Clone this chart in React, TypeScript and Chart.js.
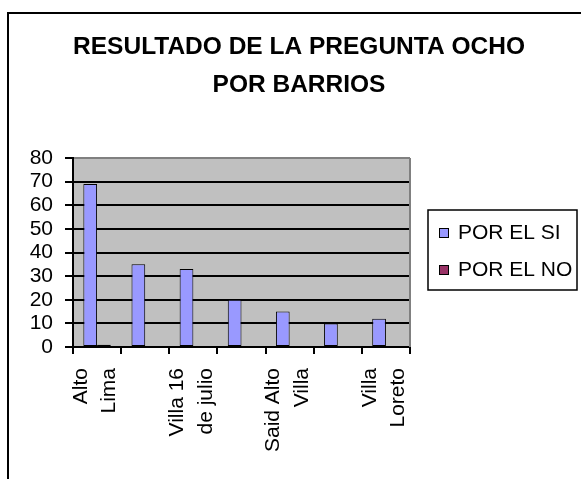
import React, { useEffect, useRef } from "react";
import { Chart, registerables } from "chart.js";

Chart.register(...registerables);

// ---- data ----
const titleLines = ["RESULTADO DE LA PREGUNTA OCHO", "POR BARRIOS"];
// Excel only printed every other category label; the hidden ones are unknown.
const categories: (string | string[])[] = [
  ["Alto", "Lima"],
  "",
  ["Villa 16", "de julio"],
  "",
  ["Said Alto", "Villa"],
  "",
  ["Villa", "Loreto"],
];
const seriesNames = ["POR EL SI", "POR EL NO"];
const porElSi = [69, 35, 33, 20, 15, 10, 12];
const porElNo = [1, 0, 0, 0, 0, 0, 0];
const yMin = 0;
const yMax = 80;
const yStep = 10;
const seriesColors = ["#9999FF", "#993366"];

const FONT = "'Liberation Sans', Arial, Helvetica, sans-serif";

const decorPlugin = {
  id: "decor",
  beforeDraw(chart: any) {
    const { ctx, chartArea: a } = chart;
    ctx.save();
    ctx.fillStyle = "#ffffff";
    ctx.fillRect(0, 0, chart.width, chart.height);
    // outer chart frame (extends beyond the picture on right/bottom)
    ctx.strokeStyle = "#000";
    ctx.lineWidth = 2;
    ctx.beginPath();
    ctx.moveTo(8, chart.height + 5);
    ctx.lineTo(8, 13);
    ctx.lineTo(chart.width + 5, 13);
    ctx.stroke();
    // plot area background
    ctx.fillStyle = "#C0C0C0";
    ctx.fillRect(a.left, a.top, a.right - a.left, a.bottom - a.top);
    ctx.restore();
  },
  beforeDatasetsDraw(chart: any) {
    const { ctx, chartArea: a } = chart;
    ctx.save();
    ctx.strokeStyle = "#808080";
    ctx.lineWidth = 2;
    ctx.beginPath();
    ctx.moveTo(a.right, a.top);
    ctx.lineTo(a.right, a.bottom);
    ctx.stroke();
    ctx.restore();
  },
  afterDraw(chart: any) {
    const { ctx } = chart;
    ctx.save();
    // title
    ctx.fillStyle = "#000";
    ctx.font = `bold 24.5px ${FONT}`;
    ctx.textAlign = "center";
    ctx.textBaseline = "middle";
    const titleY = [47.5, 85];
    titleLines.forEach((t, i) => ctx.fillText(t, 299, titleY[i]));
    // legend
    const bx = 428, by = 210, bw = 149, bh = 80;
    ctx.strokeStyle = "#000";
    ctx.lineWidth = 1.5;
    ctx.strokeRect(bx, by, bw, bh);
    ctx.font = `21px ${FONT}`;
    ctx.textAlign = "left";
    const rowY = [233, 270];
    chart.data.datasets.forEach((ds: any, i: number) => {
      const cy = rowY[i];
      ctx.fillStyle = ds.backgroundColor;
      ctx.fillRect(439, cy - 5, 10, 10);
      ctx.lineWidth = 1;
      ctx.strokeStyle = "#000";
      ctx.strokeRect(439.5, cy - 4.5, 9, 9);
      ctx.fillStyle = "#000";
      ctx.fillText(ds.label, 458, cy);
    });
    ctx.restore();
  },
};

export default function App() {
  const ref = useRef<HTMLCanvasElement>(null);
  useEffect(() => {
    if (!ref.current) return;
    Chart.defaults.font.family = FONT;
    const chart = new Chart(ref.current, {
      type: "bar",
      data: {
        labels: categories,
        datasets: [
          {
            label: seriesNames[0],
            data: porElSi,
            backgroundColor: seriesColors[0],
            borderColor: "#000",
            borderWidth: 1,
            borderSkipped: false,
          },
          {
            label: seriesNames[1],
            data: porElNo,
            backgroundColor: seriesColors[1],
            borderColor: "#000",
            borderWidth: 1,
            borderSkipped: false,
          },
        ],
      },
      options: {
        responsive: false,
        devicePixelRatio: 1,
        animation: false,
        layout: { padding: { left: 0, top: 158, right: 171, bottom: 0 } },
        plugins: {
          legend: { display: false },
          title: { display: false },
          tooltip: { enabled: false },
        },
        datasets: {
          bar: { categoryPercentage: 0.57, barPercentage: 1 },
        },
        scales: {
          x: {
            afterFit: (s: any) => {
              s.height = 132;
            },
            border: { display: true, color: "#000", width: 2 },
            grid: {
              display: true,
              offset: true,
              drawOnChartArea: false,
              drawTicks: true,
              tickLength: 7,
              color: "#000",
              lineWidth: 2,
            },
            ticks: {
              autoSkip: false,
              minRotation: 90,
              maxRotation: 90,
              padding: 14,
              labelOffset: -16,
              color: "#000",
              font: { size: 21, lineHeight: 1.35 },
            },
          },
          y: {
            min: yMin,
            max: yMax,
            afterFit: (s: any) => {
              s.width = 73;
            },
            border: { display: true, color: "#000", width: 2 },
            grid: {
              color: (c: any) => (c.tick && c.tick.value === yMax ? "#808080" : "#000"),
              tickColor: "#000",
              lineWidth: 2,
              drawTicks: true,
              tickLength: 8,
            },
            ticks: {
              stepSize: yStep,
              autoSkip: false,
              padding: 12,
              color: "#000",
              font: { size: 21, lineHeight: 1 },
            },
          },
        },
      },
      plugins: [decorPlugin],
    });
    return () => chart.destroy();
  }, []);
  return (
    <div style={{ position: "absolute", left: 0, top: 0, width: 581, height: 479 }}>
      <canvas ref={ref} width={581} height={479} style={{ display: "block", width: 581, height: 479 }} />
    </div>
  );
}
